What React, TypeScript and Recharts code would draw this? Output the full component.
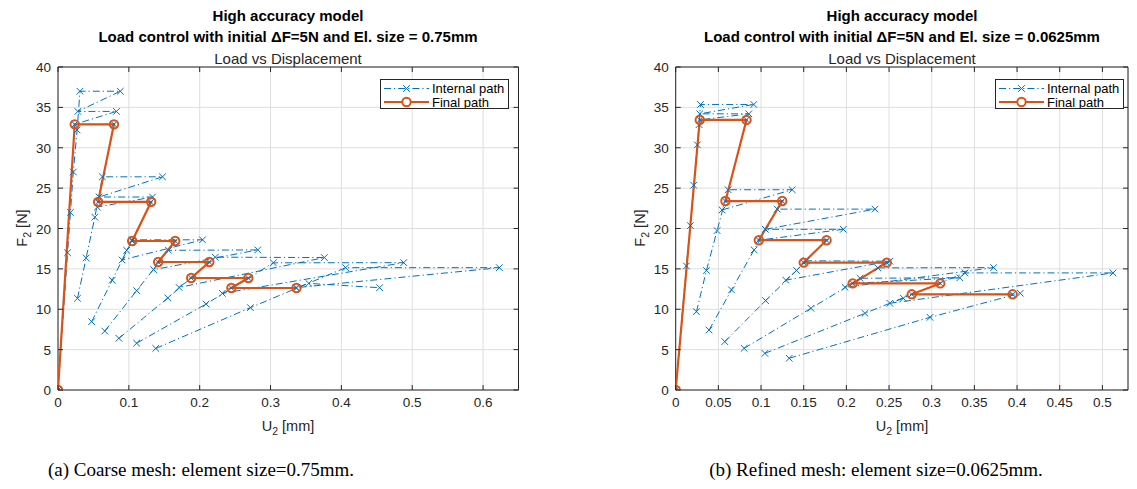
import React from "react";
import { LineChart, Line, XAxis, YAxis, CartesianGrid, ReferenceArea } from "recharts";

const BLUE = "#0072BD";
const ORANGE = "#D95319";
const AXIS = "#262626";
const FONT = "'Liberation Sans', Arial, Helvetica, sans-serif";
const SERIF = "'Liberation Serif', 'Times New Roman', serif";
const DASH = "7 3 1.2 3";

// ---- (a) coarse mesh, element size 0.75 mm : [U2 mm, F2 N]
const coarseInternal0: [number, number][] = [[0, 0], [0.0135, 17], [0.0176, 22], [0.0216, 27], [0.027, 32.2], [0.031, 37], [0.088, 37], [0.028, 34.5], [0.0825, 34.5], [0.0236, 32.9], [0.079, 32.9]];
const coarseInternal1: [number, number][] = [[0.0275, 11.35], [0.0397, 16.35], [0.052, 21.4], [0.0627, 26.4], [0.1475, 26.4], [0.058, 23.9], [0.1334, 23.9], [0.0556, 22.65], [0.0565, 23.25], [0.131, 23.25]];
const coarseInternal2: [number, number][] = [[0.0475, 8.46], [0.0765, 13.6], [0.1045, 18.6], [0.204, 18.6], [0.0905, 16.1], [0.097, 17.3], [0.1047, 18.45], [0.1655, 18.45]];
const coarseInternal3: [number, number][] = [[0.066, 7.3], [0.111, 12.3], [0.156, 17.3], [0.282, 17.35], [0.135, 14.9], [0.1414, 15.85], [0.2136, 15.85]];
const coarseInternal4: [number, number][] = [[0.086, 6.4], [0.155, 11.4], [0.222, 16.45], [0.376, 16.4], [0.171, 12.7], [0.188, 13.87], [0.2687, 13.87]];
const coarseInternal5: [number, number][] = [[0.111, 5.8], [0.209, 10.65], [0.304, 15.75], [0.488, 15.77], [0.232, 11.97], [0.2447, 12.63], [0.3366, 12.63]];
const coarseInternal6: [number, number][] = [[0.138, 5.15], [0.2716, 10.2], [0.406, 15.15], [0.623, 15.15], [0.336, 12.67], [0.354, 13.2], [0.454, 12.67]];
const coarseFinal: [number, number][] = [[0, 0], [0.0236, 32.9], [0.079, 32.9], [0.0566, 23.3], [0.1315, 23.3], [0.1047, 18.45], [0.1655, 18.45], [0.1414, 15.85], [0.2136, 15.85], [0.188, 13.87], [0.2687, 13.87], [0.2447, 12.63], [0.3366, 12.63]];

// ---- (b) refined mesh, element size 0.0625 mm
const fineInternal0: [number, number][] = [[0, 0], [0.0125, 15.36], [0.0172, 20.36], [0.0211, 25.36], [0.0254, 30.36], [0.0274, 32.86], [0.029, 35.36], [0.0915, 35.36], [0.0282, 34.2], [0.0857, 34.2], [0.0282, 33.45], [0.083, 33.45]];
const fineInternal1: [number, number][] = [[0.0243, 9.7], [0.036, 14.8], [0.0485, 19.74], [0.0614, 24.8], [0.1365, 24.8], [0.0544, 22.3], [0.0583, 23.4], [0.1248, 23.4]];
const fineInternal2: [number, number][] = [[0.0391, 7.43], [0.0654, 12.4], [0.0919, 17.35], [0.119, 22.4], [0.2336, 22.4], [0.105, 19.9], [0.1964, 19.9], [0.0974, 18.55], [0.1768, 18.55]];
const fineInternal3: [number, number][] = [[0.0575, 5.99], [0.1053, 11.07], [0.153, 16.0], [0.251, 15.95], [0.129, 13.6], [0.1416, 14.8], [0.15, 15.78], [0.2473, 15.78]];
const fineInternal4: [number, number][] = [[0.0802, 5.16], [0.1585, 10.12], [0.237, 15.12], [0.3725, 15.16], [0.1984, 12.72], [0.216, 13.84], [0.333, 13.9], [0.2074, 13.2], [0.31, 13.2]];
const fineInternal5: [number, number][] = [[0.1045, 4.54], [0.2218, 9.5], [0.339, 14.5], [0.5125, 14.5], [0.251, 10.74], [0.2668, 11.36], [0.2766, 11.85], [0.3948, 11.85]];
const fineInternal6: [number, number][] = [[0.133, 3.93], [0.298, 9.0], [0.4038, 11.98]];
const fineFinal: [number, number][] = [[0, 0], [0.0282, 33.45], [0.083, 33.45], [0.0583, 23.4], [0.1248, 23.4], [0.0974, 18.55], [0.1768, 18.55], [0.15, 15.78], [0.2473, 15.78], [0.2074, 13.2], [0.31, 13.2], [0.2766, 11.85], [0.3948, 11.85]];

const coarseXTicks = [0, 0.1, 0.2, 0.3, 0.4, 0.5, 0.6];
const fineXTicks = [0, 0.05, 0.1, 0.15, 0.2, 0.25, 0.3, 0.35, 0.4, 0.45, 0.5];
const yTicks = [0, 5, 10, 15, 20, 25, 30, 35, 40];

const toPts = (arr: [number, number][]) => arr.map(([x, y]) => ({ x, y }));

const Cross = (p: any) => {
  const { cx, cy, index } = p;
  if (cx == null || cy == null) return <g key={index} />;
  const s = 3.3;
  return (
    <path
      key={index}
      d={`M${cx - s},${cy - s}L${cx + s},${cy + s}M${cx - s},${cy + s}L${cx + s},${cy - s}`}
      stroke={BLUE}
      strokeWidth={1}
      fill="none"
    />
  );
};

const XTick = (props: any) => {
  const { x, y, payload, top } = props;
  return (
    <g>
      <line x1={x} y1={y} x2={x} y2={y - 5} stroke={AXIS} />
      <line x1={x} y1={top} x2={x} y2={top + 5} stroke={AXIS} />
      <text x={x} y={y + 17} textAnchor="middle" fill={AXIS} fontSize={13.5} fontFamily={FONT}>
        {String(payload.value)}
      </text>
    </g>
  );
};

const YTick = (props: any) => {
  const { x, y, payload, right } = props;
  return (
    <g>
      <line x1={x} y1={y} x2={x + 5} y2={y} stroke={AXIS} />
      <line x1={right} y1={y} x2={right - 5} y2={y} stroke={AXIS} />
      <text x={x - 7} y={y + 5} textAnchor="end" fill={AXIS} fontSize={13.5} fontFamily={FONT}>
        {String(payload.value)}
      </text>
    </g>
  );
};

const LegendBox = ({ left, top }: { left: number; top: number }) => (
  <div style={{ position: "absolute", left, top, width: 129, height: 30, border: `1px solid ${AXIS}`, background: "#fff", boxSizing: "border-box" }}>
    <svg width={127} height={28} style={{ display: "block" }}>
      <line x1={3} x2={48} y1={8.5} y2={8.5} stroke={BLUE} strokeDasharray={DASH} />
      <Cross cx={25.5} cy={8.5} index={0} />
      <text x={51} y={13} fontSize={13} fontFamily={FONT} fill="#000">Internal path</text>
      <line x1={3} x2={48} y1={22} y2={22} stroke={ORANGE} strokeWidth={2.2} />
      <circle cx={25.5} cy={22} r={4.2} stroke={ORANGE} strokeWidth={2} fill="#fff" />
      <text x={51} y={26.5} fontSize={13} fontFamily={FONT} fill="#000">Final path</text>
    </svg>
  </div>
);

interface PanelProps {
  offsetLeft: number;
  width: number;
  plotLeft: number;
  plotRight: number;
  xMax: number;
  xTicks: number[];
  stages: [number, number][][];
  final: [number, number][];
}

const PLOT_TOP = 67;
const PLOT_BOTTOM = 390;
const CHART_H = 440;

function Panel({ offsetLeft, width, plotLeft, plotRight, xMax, xTicks, stages, final }: PanelProps) {
  const yAxisW = 40;
  const xAxisH = 30;
  return (
    <div style={{ position: "absolute", left: offsetLeft, top: 0 }}>
      <LineChart
        width={width}
        height={CHART_H}
        margin={{ top: PLOT_TOP, left: plotLeft - yAxisW, right: width - plotRight, bottom: CHART_H - PLOT_BOTTOM - xAxisH }}
      >
        <CartesianGrid stroke="#dedede" strokeWidth={1} />
        <XAxis
          type="number"
          dataKey="x"
          domain={[0, xMax]}
          ticks={xTicks}
          allowDataOverflow
          height={xAxisH}
          tickSize={0}
          tickMargin={0}
          tickLine={false}
          axisLine={false}
          interval={0}
          tick={<XTick top={PLOT_TOP} />}
        />
        <YAxis
          type="number"
          dataKey="y"
          domain={[0, 40]}
          ticks={yTicks}
          allowDataOverflow
          width={yAxisW}
          tickSize={0}
          tickMargin={0}
          tickLine={false}
          axisLine={false}
          interval={0}
          tick={<YTick right={plotRight} />}
        />
        <ReferenceArea x1={0} x2={xMax} y1={0} y2={40} fill="none" stroke={AXIS} strokeWidth={1} ifOverflow="visible" />
        {stages.map((s, i) => (
          <Line
            key={`int${i}`}
            data={toPts(s)}
            dataKey="y"
            name="Internal path"
            stroke={BLUE}
            strokeWidth={1}
            strokeDasharray={DASH}
            dot={Cross}
            activeDot={false}
            isAnimationActive={false}
          />
        ))}
        <Line
          data={toPts(final)}
          dataKey="y"
          name="Final path"
          stroke={ORANGE}
          strokeWidth={2.2}
          dot={{ r: 4.2, stroke: ORANGE, strokeWidth: 2, fill: "none" }}
          activeDot={false}
          isAnimationActive={false}
        />
      </LineChart>
    </div>
  );
}

const Titles = ({ cx, size }: { cx: number; size: string }) => (
  <g fontFamily={FONT} fill="#000" textAnchor="middle">
    <text x={cx} y={21} fontSize={15} fontWeight="bold">High accuracy model</text>
    <text x={cx} y={41.5} fontSize={15} fontWeight="bold">{`Load control with initial \u0394F=5N and El. size = ${size}`}</text>
    <text x={cx} y={64} fontSize={15} fill={AXIS}>Load vs Displacement</text>
    <text x={cx} y={431} fontSize={14.5} fill={AXIS}>
      U<tspan fontSize={10.5} dy={4}>2</tspan>
      <tspan dy={-4}> [mm]</tspan>
    </text>
  </g>
);

export default function App() {
  return (
    <div style={{ position: "absolute", left: 0, top: 0, width: 1137, height: 489, background: "#fff", overflow: "hidden" }}>
      <Panel
        offsetLeft={0}
        width={560}
        plotLeft={58}
        plotRight={518.5}
        xMax={0.65}
        xTicks={coarseXTicks}
        stages={[coarseInternal0, coarseInternal1, coarseInternal2, coarseInternal3, coarseInternal4, coarseInternal5, coarseInternal6]}
        final={coarseFinal}
      />
      <Panel
        offsetLeft={580}
        width={557}
        plotLeft={95.7}
        plotRight={548}
        xMax={0.53}
        xTicks={fineXTicks}
        stages={[fineInternal0, fineInternal1, fineInternal2, fineInternal3, fineInternal4, fineInternal5, fineInternal6]}
        final={fineFinal}
      />
      <LegendBox left={380} top={79} />
      <LegendBox left={995} top={79} />
      <svg width={1137} height={489} style={{ position: "absolute", left: 0, top: 0, pointerEvents: "none" }}>
        <Titles cx={288} size="0.75mm" />
        <Titles cx={902} size="0.0625mm" />
        <g fontFamily={FONT} fontSize={14.5} fill={AXIS} textAnchor="middle">
          <text transform="translate(27,228) rotate(-90)">
            F<tspan fontSize={10.5} dy={4}>2</tspan>
            <tspan dy={-4}> [N]</tspan>
          </text>
          <text transform="translate(645,228) rotate(-90)">
            F<tspan fontSize={10.5} dy={4}>2</tspan>
            <tspan dy={-4}> [N]</tspan>
          </text>
        </g>
        <g fontFamily={SERIF} fontSize={19} fill="#000" textAnchor="middle">
          <text x={201} y={476}>(a) Coarse mesh: element size=0.75mm.</text>
          <text x={876} y={476}>(b) Refined mesh: element size=0.0625mm.</text>
        </g>
      </svg>
    </div>
  );
}
